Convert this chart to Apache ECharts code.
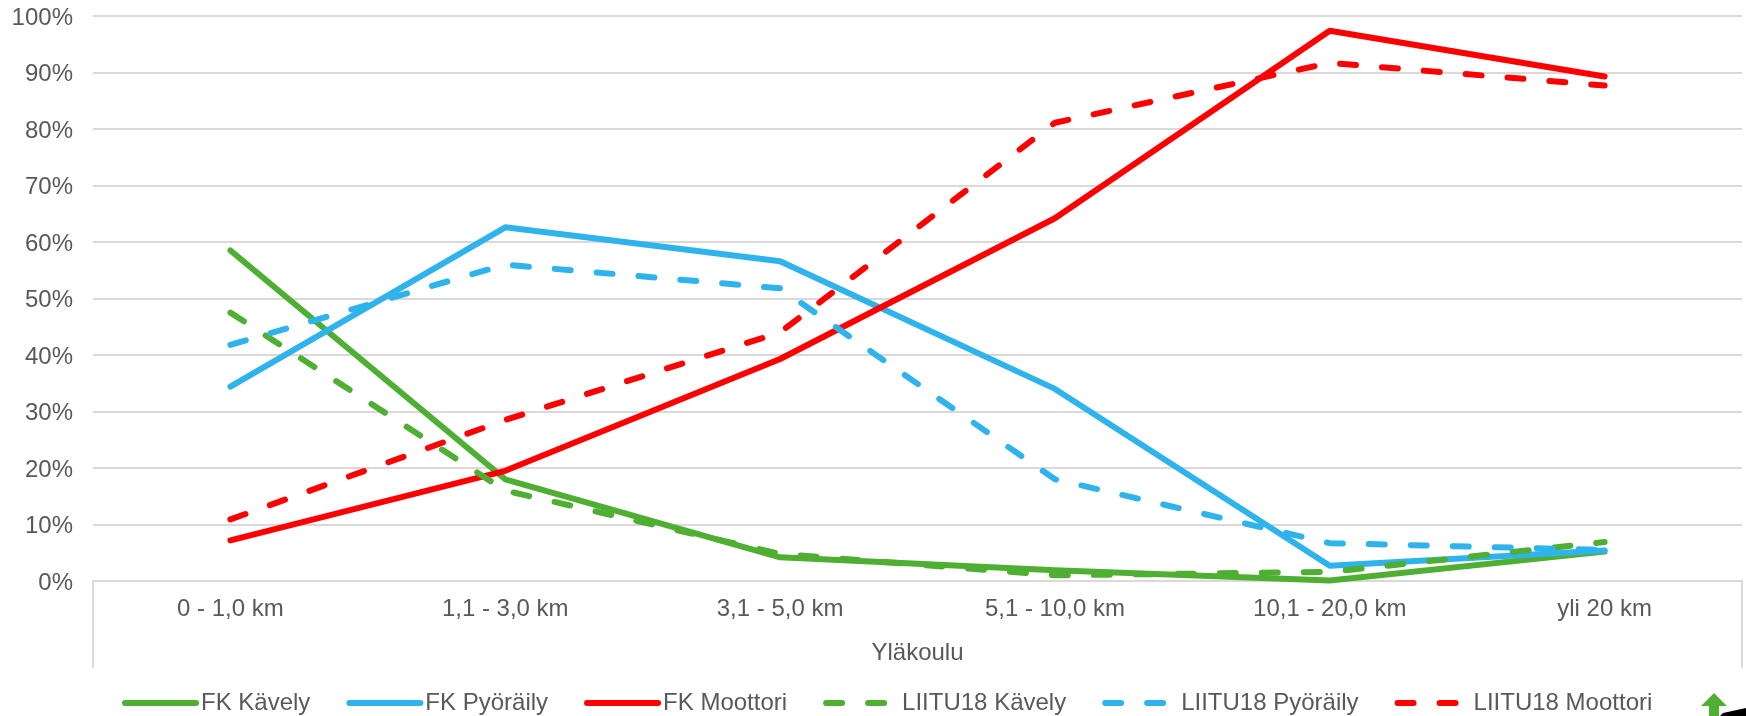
<!DOCTYPE html>
<html><head><meta charset="utf-8">
<style>html,body{margin:0;padding:0;background:#fff}#c{width:1746px;height:716px}</style>
<script src="https://cdn.jsdelivr.net/npm/echarts@6/dist/echarts.min.js"></script>
</head><body><div id="c"></div>
<script>
const categories = ['0 - 1,0 km','1,1 - 3,0 km','3,1 - 5,0 km','5,1 - 10,0 km','10,1 - 20,0 km','yli 20 km'];
const yTicks = [0,10,20,30,40,50,60,70,80,90,100];
const fkKavely = [58.5,18.0,4.2,1.9,0.1,5.2];
const fkPyoraily = [34.4,62.6,56.6,34.0,2.7,5.4];
const fkMoottori = [7.2,19.5,39.3,64.2,97.4,89.3];
const liituKavely = [47.5,16.0,4.8,1.0,1.6,6.9];
const liituPyoraily = [41.8,56.0,51.8,18.0,6.7,5.5];
const liituMoottori = [10.9,28.5,44.0,81.1,91.7,87.7];
const GREEN='#4EAF32', BLUE='#2FB3EC', RED='#FF0000', GREY='#595959', LINE='#D9D9D9';
const FONT='"Liberation Sans",Arial,sans-serif', FS=24;
function mk(name,data,color,dashed){return {name,type:'line',data,xAxisIndex:0,yAxisIndex:0,
  symbol:'none',smooth:false,z:dashed?3:2,
  lineStyle:{color,width:6,cap:'round',join:'round',type:dashed?[16,26]:'solid'},itemStyle:{color}};}
const chart=echarts.init(document.getElementById('c'),null,{renderer:'canvas'});
chart.setOption({
  animation:false,backgroundColor:'#fff',
  grid:[{left:93,right:4,top:16,height:565},{left:93,right:4,top:581,height:86}],
  legend:{show:true,top:686,left:117,itemWidth:71,itemHeight:26,itemGap:36,
    itemStyle:{opacity:0},lineStyle:{width:6,cap:'round'},
    textStyle:{color:GREY,fontFamily:FONT,fontSize:FS},
    data:['FK Kävely','FK Pyöräily','FK Moottori','LIITU18 Kävely','LIITU18 Pyöräily','LIITU18 Moottori']},
  xAxis:[{type:'category',gridIndex:0,data:categories,boundaryGap:true,
      axisLine:{show:true,onZero:false,lineStyle:{color:LINE,width:2}},axisTick:{show:false},
      axisLabel:{color:GREY,fontFamily:FONT,fontSize:FS,margin:16,interval:0},
      name:'Yläkoulu',nameLocation:'middle',nameGap:60,nameTextStyle:{color:GREY,fontFamily:FONT,fontSize:FS}},
    {type:'category',gridIndex:1,data:categories,show:false}],
  yAxis:[{type:'value',gridIndex:0,min:0,max:100,interval:10,
      axisLine:{show:false},axisTick:{show:false},
      axisLabel:{color:GREY,fontFamily:FONT,fontSize:FS,margin:20,verticalAlign:'top',lineHeight:4,formatter:v=>yTicks.includes(v)?v+'%':''},
      splitLine:{show:true,lineStyle:{color:LINE,width:2}}},
    {type:'value',gridIndex:1,min:0,max:1,position:'left',axisLine:{show:true,lineStyle:{color:LINE,width:2}},axisTick:{show:false},axisLabel:{show:false},splitLine:{show:false}},
    {type:'value',gridIndex:1,min:0,max:1,position:'right',axisLine:{show:true,lineStyle:{color:LINE,width:2}},axisTick:{show:false},axisLabel:{show:false},splitLine:{show:false}}],
  graphic:[
    {type:'polygon',shape:{points:[[1714,693],[1727,706],[1719,706],[1719,716],[1709,716],[1709,706],[1701,706]]},style:{fill:GREEN}},
    {type:'polygon',shape:{points:[[1720,716],[1723,713],[1746,708],[1746,716]]},style:{fill:'#000'}}
  ],
  series:[mk('FK Kävely',fkKavely,GREEN,false),mk('FK Pyöräily',fkPyoraily,BLUE,false),mk('FK Moottori',fkMoottori,RED,false),
    mk('LIITU18 Kävely',liituKavely,GREEN,true),mk('LIITU18 Pyöräily',liituPyoraily,BLUE,true),mk('LIITU18 Moottori',liituMoottori,RED,true)]
});
</script></body></html>
